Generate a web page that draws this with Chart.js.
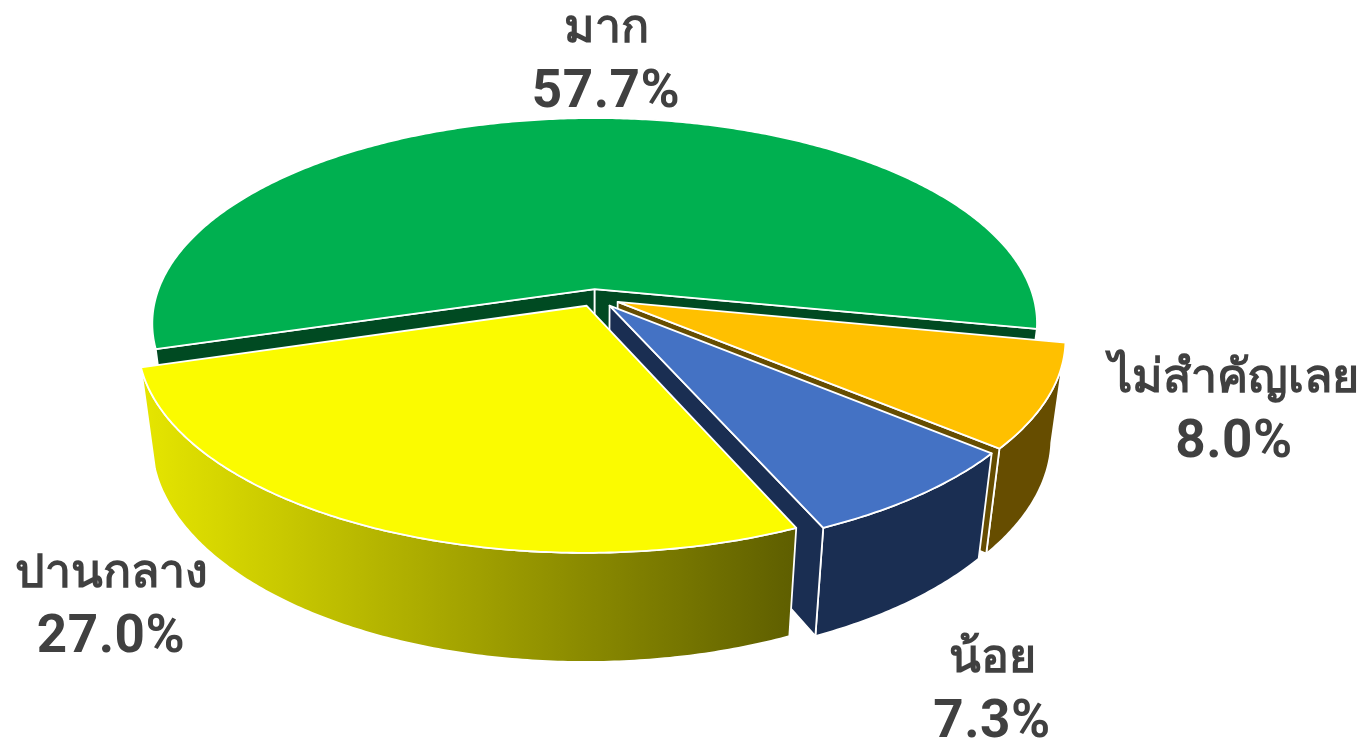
<!DOCTYPE html>
<html lang="th">
<head>
    <meta charset="UTF-8">
    <title>Pie 3D</title>
    <script src="https://cdn.jsdelivr.net/npm/chart.js"></script>
    <style>
        html, body { margin: 0; padding: 0; background: #fff; overflow: hidden; }
        canvas { display: block; }
    </style>
</head>
<body>
    <canvas id="pie" width="1368" height="740"></canvas>
    <script>
        // data
        const categories = ['มาก', 'ไม่สำคัญเลย', 'น้อย', 'ปานกลาง'];
        const values = [57.7, 8.0, 7.3, 27.0];
        const percentLabels = ['57.7%', '8.0%', '7.3%', '27.0%'];

        // styles, one per slice
        const topColors = ['#00B050', '#FFC000', '#4472C4', '#FBFB00'];
        const wallFrom = ['#004A22', '#664D00', '#1A2E52', '#E6E600'];
        const wallTo = ['#004A22', '#664D00', '#1A2E52', '#5E5E00'];
        const faceColors = ['#004A22', '#664D00', '#1A2E52', '#666600'];
        const explode = [14, 20, 19, 17];
        const labelX = [606, 1234, 992, 111];
        const labelY = [42, 392, 672, 587];
        const lineGap = 65;

        // perspective of the pie plane
        const view = { cx: 595.5, cy: 297, rx: 439, ry: 202.3, k: 0.168, h: 101, m: 0.03 };

        function project(u, v, t) {
            const w = 1 - view.k * v + view.m * t;
            return [view.cx + view.rx * u / w, view.cy + (view.ry * v + view.h * t) / w];
        }

        function poly(ctx, pts, fill) {
            ctx.beginPath();
            pts.forEach((p, i) => i ? ctx.lineTo(p[0], p[1]) : ctx.moveTo(p[0], p[1]));
            ctx.closePath();
            ctx.fillStyle = fill;
            ctx.fill();
            ctx.stroke();
        }

        const pie3d = {
            id: 'pie3d',
            // the arcs come from the pie controller, only the way they are painted differs
            beforeDatasetDraw(chart) {
                const ctx = chart.ctx;
                const arcs = chart.getDatasetMeta(0).data;
                const order = arcs.map((a, i) => i).sort((p, q) => {
                    const mid = a => (a.startAngle + a.endAngle) / 2;
                    return Math.sin(mid(arcs[p])) - Math.sin(mid(arcs[q]));
                });
                ctx.save();
                ctx.strokeStyle = '#fff';
                ctx.lineWidth = 1.8;
                ctx.lineJoin = 'round';
                order.forEach(i => {
                    const arc = arcs[i];
                    const a0 = arc.startAngle, a1 = arc.endAngle;
                    const mid = (a0 + a1) / 2;
                    const off = arc.options.offset / arc.outerRadius;
                    const ox = Math.cos(mid) * off, oy = Math.sin(mid) * off;
                    const rim = [];
                    const n = Math.ceil((a1 - a0) / 0.01);
                    for (let s = 0; s <= n; s++) {
                        const a = a0 + (a1 - a0) * s / n;
                        rim.push([ox + Math.cos(a), oy + Math.sin(a)]);
                    }
                    const at = (t) => rim.map(p => project(p[0], p[1], t));
                    const top = at(0), bottom = at(1);
                    const tipTop = project(ox, oy, 0), tipBottom = project(ox, oy, 1);

                    // outer wall
                    const xs = top.concat(bottom).map(p => p[0]);
                    const grad = ctx.createLinearGradient(Math.min(...xs), 0, Math.max(...xs), 0);
                    grad.addColorStop(0, wallFrom[i]);
                    grad.addColorStop(1, wallTo[i]);
                    poly(ctx, top.concat(bottom.slice().reverse()), grad);

                    // cut faces facing the viewer
                    if (Math.sin(a0 - Math.PI / 2) > 0) {
                        poly(ctx, [tipTop, top[0], bottom[0], tipBottom], faceColors[i]);
                    }
                    if (Math.sin(a1 + Math.PI / 2) > 0) {
                        poly(ctx, [tipTop, top[n], bottom[n], tipBottom], faceColors[i]);
                    }

                    // top face
                    poly(ctx, [tipTop].concat(top), topColors[i]);
                });
                ctx.restore();
                return false;
            },
            afterDatasetsDraw(chart) {
                const ctx = chart.ctx;
                ctx.save();
                ctx.fillStyle = '#404040';
                ctx.textAlign = 'center';
                ctx.textBaseline = 'alphabetic';
                categories.forEach((c, i) => {
                    ctx.font = 'bold 46.5px "Noto Sans", Roboto, sans-serif';
                    ctx.letterSpacing = '0px';
                    ctx.fillText(c, labelX[i], labelY[i]);
                    ctx.font = 'bold 53px Roboto, sans-serif';
                    ctx.letterSpacing = '0.5px';
                    ctx.fillText(percentLabels[i], labelX[i], labelY[i] + lineGap);
                });
                ctx.restore();
            }
        };

        new Chart(document.getElementById('pie').getContext('2d'), {
            type: 'pie',
            data: {
                labels: categories,
                datasets: [{ data: values, backgroundColor: topColors, offset: explode, borderColor: '#fff' }]
            },
            options: {
                responsive: false,
                animation: false,
                rotation: 253.4,
                plugins: { legend: { display: false }, tooltip: { enabled: false } }
            },
            plugins: [pie3d]
        });
    </script>
</body>
</html>
